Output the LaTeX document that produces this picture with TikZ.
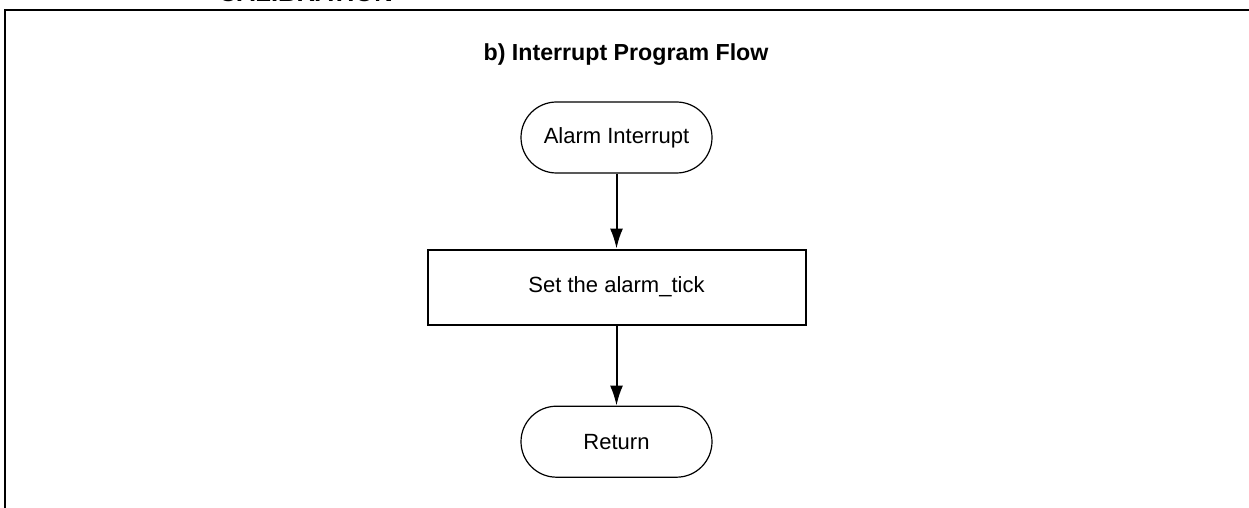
\documentclass[tikz,border=0pt]{standalone}
\usepackage{fontspec}
\setmainfont{Liberation Sans}
\usetikzlibrary{positioning,arrows.meta}

\tikzset{
  terminal/.style={draw, line width=0.6pt, rounded corners=17.75pt,
    minimum width=95.5pt, minimum height=35.5pt, inner sep=0pt,
    font=\fontsize{11}{13}\selectfont},
  process/.style={draw, line width=1pt, minimum width=189pt,
    minimum height=37.5pt, inner sep=0pt, font=\fontsize{11}{13}\selectfont},
  flow/.style={-{Latex[length=10pt,width=6.5pt]}, line width=1pt},
}

\begin{document}
\begin{tikzpicture}[x=0.5pt, y=-0.5pt]
  \useasboundingbox (0,0) rectangle (1249,508);

  % page frame and cut-off heading
  \draw[line width=1.2pt] (5,530) -- (5,10) -- (1270,10);
  \node[anchor=base west, inner sep=0pt, font=\fontsize{12.8}{14}\selectfont\bfseries]
    (heading) at (218,1.5) {CALIBRATION};

  \node[anchor=base, inner sep=0pt, font=\fontsize{11.6}{14}\selectfont\bfseries]
    (title) at (626,61) {b) Interrupt Program Flow};

  \node[terminal]                      (alarm)   at (616.5,137.5) {Alarm Interrupt};
  \node[process, below=37.5pt of alarm] (settick) {Set the alarm\_tick};
  \node[terminal, below=40pt of settick] (return)  {Return};

  \draw[flow] (alarm) -- (settick);
  \draw[flow] (settick) -- (return);
\end{tikzpicture}
\end{document}
